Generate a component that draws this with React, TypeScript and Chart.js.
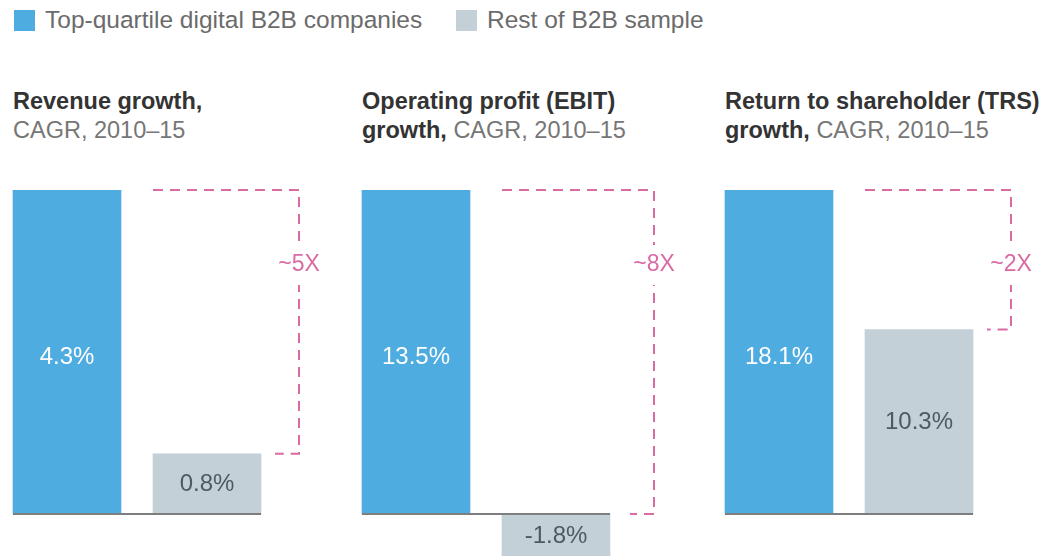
import React, { useEffect, useRef } from "react";
import { Chart, registerables } from "chart.js";

Chart.register(...registerables);

const seriesNames = ["Top-quartile digital B2B companies", "Rest of B2B sample"];
const topQuartile = [4.3, 13.5, 18.1];
const restOfSample = [0.8, -1.8, 10.3];
const multiples = ["~5X", "~8X", "~2X"];
const titleBold = ["Revenue growth,", "Operating profit (EBIT)", "Return to shareholder (TRS)"];
const titleLine2Bold = ["", "growth,", "growth,"];
const titleLight = ["CAGR, 2010–15", "CAGR, 2010–15", "CAGR, 2010–15"];

const BLUE = "#4EACE0";
const GRAY = "#C3D0D7";
const PINK = "#D96AA4";
const FONT = "'Liberation Sans', Arial, Helvetica, sans-serif";

// layout constants
const panelBarLeft = [13, 362, 725];
const bracketGap = [38, 44, 38];
const canvasWidths = [336, 344, 343];
const CANVAS_TOP = 170;
const CANVAS_H = 386;
const PAD_TOP = 20;
const BAR_H_PX = 324; // pixel height of the top bar
const BELOW_PX = 42; // pixels below baseline inside chart area

function fmt(v: number) {
  return v.toFixed(1) + "%";
}

const overlayPlugin = {
  id: "overlay",
  afterDatasetsDraw(chart: any, _args: any, opts: any) {
    const ctx = chart.ctx;
    const meta = chart.getDatasetMeta(0);
    const y = chart.scales.y;
    const b0 = meta.data[0];
    const b1 = meta.data[1];
    const zero = y.getPixelForValue(0);
    const vals = chart.data.datasets[0].data as number[];

    // value labels
    ctx.save();
    ctx.font = `24px ${FONT}`;
    ctx.textAlign = "center";
    ctx.textBaseline = "middle";
    const y0 = y.getPixelForValue(vals[0]);
    ctx.fillStyle = "#FFFFFF";
    ctx.fillText(fmt(vals[0]), b0.x, (y0 + zero) / 2 + 5);
    const y1 = y.getPixelForValue(vals[1]);
    ctx.fillStyle = "#4D5A62";
    ctx.fillText(fmt(vals[1]), b1.x, (y1 + zero) / 2 + 1);
    ctx.restore();

    // baseline
    const left = b0.x - b0.width / 2;
    const right = b1.x + b1.width / 2;
    ctx.save();
    ctx.strokeStyle = "#7E7E7E";
    ctx.lineWidth = 2;
    ctx.beginPath();
    ctx.moveTo(left, zero);
    ctx.lineTo(right, zero);
    ctx.stroke();
    ctx.restore();

    // bracket
    const bx = right + opts.gap;
    const topY = y0;
    const botY = vals[1] >= 0 ? y1 : zero;
    ctx.save();
    ctx.strokeStyle = PINK;
    ctx.lineWidth = 2;
    ctx.setLineDash([10, 7]);
    ctx.beginPath();
    ctx.moveTo(b1.x - b1.width / 2, topY);
    ctx.lineTo(bx, topY);
    ctx.lineTo(bx, botY);
    ctx.lineTo(bx - 24, botY);
    ctx.stroke();
    ctx.setLineDash([]);
    const ly = topY + 75;
    ctx.fillStyle = "#FFFFFF";
    ctx.fillRect(bx - 4, ly - 20, 8, 40);
    ctx.font = `23px ${FONT}`;
    ctx.textAlign = "center";
    ctx.textBaseline = "middle";
    ctx.fillStyle = PINK;
    ctx.fillText(opts.label, bx, ly);
    ctx.restore();
  },
};

function Panel({ index }: { index: number }) {
  const ref = useRef<HTMLCanvasElement>(null);
  useEffect(() => {
    if (!ref.current) return;
    const top = topQuartile[index];
    const rest = restOfSample[index];
    const chart = new Chart(ref.current, {
      type: "bar",
      data: {
        labels: seriesNames,
        datasets: [
          {
            data: [top, rest],
            backgroundColor: [BLUE, GRAY],
            barThickness: 108,
            borderWidth: 0,
          },
        ],
      },
      options: {
        animation: false,
        responsive: false,
        maintainAspectRatio: false,
        layout: { padding: { top: PAD_TOP, right: canvasWidths[index] - 280, left: 0, bottom: 0 } },
        plugins: {
          legend: { display: false },
          tooltip: { enabled: false },
          overlay: { gap: bracketGap[index], label: multiples[index] },
        } as any,
        scales: {
          x: { display: false, offset: true, grid: { display: false } },
          y: {
            display: false,
            min: -top * (BELOW_PX / BAR_H_PX),
            max: top,
            grid: { display: false },
          },
        },
      },
      plugins: [overlayPlugin],
    });
    return () => chart.destroy();
  }, [index]);
  return (
    <canvas
      ref={ref}
      width={canvasWidths[index]}
      height={CANVAS_H}
      style={{
        position: "absolute",
        left: panelBarLeft[index] - 16,
        top: CANVAS_TOP,
        width: canvasWidths[index],
        height: CANVAS_H,
      }}
    />
  );
}

export default function App() {
  return (
    <div
      style={{
        position: "absolute",
        left: 0,
        top: 0,
        width: 1052,
        height: 556,
        overflow: "hidden",
        background: "#FFFFFF",
        fontFamily: FONT,
      }}
    >
      {/* legend */}
      <div style={{ position: "absolute", left: 14, top: 10, width: 21, height: 21, background: BLUE }} />
      <div style={{ position: "absolute", left: 45, top: 5, fontSize: 24.5, lineHeight: "30px", color: "#6B6B6B", whiteSpace: "nowrap" }}>
        {seriesNames[0]}
      </div>
      <div style={{ position: "absolute", left: 456, top: 10, width: 21, height: 21, background: GRAY }} />
      <div style={{ position: "absolute", left: 487, top: 5, fontSize: 24.5, lineHeight: "30px", color: "#6B6B6B", whiteSpace: "nowrap" }}>
        {seriesNames[1]}
      </div>
      {/* titles */}
      {[0, 1, 2].map((i) => (
        <div
          key={i}
          style={{
            position: "absolute",
            left: panelBarLeft[i],
            top: 87,
            fontSize: 23.5,
            lineHeight: "29px",
            whiteSpace: "nowrap",
          }}
        >
          <div style={{ fontWeight: "bold", color: "#333333" }}>{titleBold[i]}</div>
          <div>
            {titleLine2Bold[i] ? (
              <span style={{ fontWeight: "bold", color: "#333333" }}>{titleLine2Bold[i] + " "}</span>
            ) : null}
            <span style={{ color: "#767676" }}>{titleLight[i]}</span>
          </div>
        </div>
      ))}
      {[0, 1, 2].map((i) => (
        <Panel key={i} index={i} />
      ))}
    </div>
  );
}
